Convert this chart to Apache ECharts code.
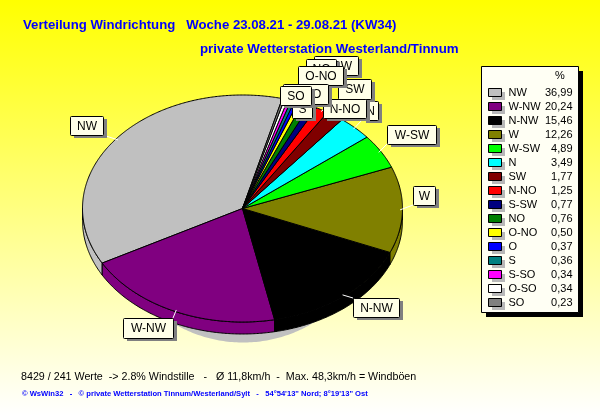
<!DOCTYPE html>
<html>
<head>
<meta charset="utf-8">
<style>html,body{margin:0;padding:0;background:#fff}#c{width:600px;height:415px}</style>
<script src="https://cdn.jsdelivr.net/npm/echarts@6/dist/echarts.min.js"></script>
</head>
<body>
<div id="c"></div>
<script>
// ---- data ----
var directions = ['NW','W-NW','N-NW','W','W-SW','N','SW','N-NO','S-SW','NO','O-NO','O','S','S-SO','O-SO','SO'];
var percents = [36.99,20.24,15.46,12.26,4.89,3.49,1.77,1.25,0.77,0.76,0.50,0.37,0.36,0.34,0.34,0.23];
var percentLabels = ['36,99','20,24','15,46','12,26','4,89','3,49','1,77','1,25','0,77','0,76','0,50','0,37','0,36','0,34','0,34','0,23'];
var titleLine1 = 'Verteilung Windrichtung   Woche 23.08.21 - 29.08.21 (KW34)';
var titleLine2 = 'private Wetterstation Westerland/Tinnum';
var footerLine1 = '8429 / 241 Werte  -> 2.8% Windstille   -   \u00d8 11,8km/h  -  Max. 48,3km/h = Windb\u00f6en';
var footerLine2 = '\u00a9 WsWin32   -   \u00a9 private Wetterstation Tinnum/Westerland/Sylt   -   54\u00b054\'13" Nord; 8\u00b019\'13" Ost';

// ---- styles / layout ----
var sliceColors = ['#c0c0c0','#800080','#000000','#808000','#00ff00','#00ffff','#800000','#ff0000','#000080','#008000','#ffff00','#0000ff','#008080','#ff00ff','#ffffff','#808080'];
var labelBoxes = [[70,116,33,19],[123,318,50,20],[353,298,46,19],[413,186,22,19],[387,125,49,19],[362,101,16,19],
  [338,79,33,20],[323,99,43,19],[314,56,44,19],[306,59,30,19],[298,66,45,19],[305,85,20,18],[292,99,20,19],[288,86,36,17],[283,84,45,20],[280,86,31,19]];
var CX = 242.5, CY = 208.5, RX = 160, RY = 113.5, DEPTH = 12, START = 75.6;
var LEGEND_TOP = 86, LEGEND_ROW = 14;
var FONT = '"Liberation Sans", Arial, sans-serif';

var total = percents.reduce(function (a, b) { return a + b; }, 0);
function sliceStart(i) {
  var s = 0;
  for (var k = 0; k < i; k++) s += percents[k];
  return START + s / total * 360;
}
function rimPoint(deg, dy) {
  var r = deg * Math.PI / 180;
  return [CX + RX * Math.cos(r), CY - RY * Math.sin(r) + (dy || 0)];
}
function arcPoints(a, b, dy) {
  var pts = [], n = Math.max(2, Math.ceil(Math.abs(b - a) * 2));
  for (var k = 0; k <= n; k++) pts.push(rimPoint(a + (b - a) * k / n, dy));
  return pts;
}
function rimSegments(a, b) {
  var out = [];
  [[180, 360], [540, 720]].forEach(function (w) {
    var s = Math.max(a, w[0]), e = Math.min(b, w[1]);
    if (e > s) out.push([s, e]);
  });
  return out;
}

function renderShadow() {
  var pts = [];
  for (var d = 0; d < 360; d += 1) {
    var r = d * Math.PI / 180;
    pts.push([CX + 0.5 + 125 * Math.cos(r), CY + 20 + 114 * Math.sin(r)]);
  }
  return { type: 'polygon', shape: { points: pts }, style: { fill: '#c0c0c0', stroke: null } };
}
function renderRim(params, api) {
  var i = params.dataIndex;
  var a = sliceStart(i), b = a + api.value(0) / total * 360;
  var kids = rimSegments(a, b).map(function (seg) {
    var pts = arcPoints(seg[0], seg[1], 0).concat(arcPoints(seg[1], seg[0], DEPTH));
    return { type: 'polygon', shape: { points: pts }, style: { fill: sliceColors[i], stroke: '#000', lineWidth: 1 } };
  });
  return { type: 'group', children: kids };
}
function topRenderer(i) {
  return function (params, api) {
    var a = sliceStart(i), b = a + api.value(0) / total * 360;
    var pts = [[CX, CY]].concat(arcPoints(a, b, 0));
    return { type: 'polygon', shape: { points: pts }, style: { fill: sliceColors[i], stroke: '#000', lineWidth: 1 } };
  };
}
function renderLabel(params, api) {
  var i = params.dataIndex, box = labelBoxes[i];
  var a = sliceStart(i), mid = a + api.value(0) / total * 180;
  var p = rimPoint(mid, 0);
  var from = [CX + (p[0] - CX) * 0.985, CY + (p[1] - CY) * 0.985];
  var to = [Math.min(Math.max(p[0], box[0]), box[0] + box[2]), Math.min(Math.max(p[1], box[1]), box[1] + box[3])];
  return {
    type: 'group',
    children: [
      { type: 'line', shape: { x1: from[0], y1: from[1], x2: to[0], y2: to[1] }, style: { stroke: '#ffffff', lineWidth: 1 } },
      { type: 'rect', shape: { x: box[0] + 4, y: box[1] + 3, width: box[2], height: box[3] }, style: { fill: '#808080' } },
      { type: 'rect', shape: { x: box[0] + 0.5, y: box[1] + 0.5, width: box[2], height: box[3], r: 1 }, style: { fill: '#ffffe8', stroke: '#000', lineWidth: 1 } },
      { type: 'text', style: { x: box[0] + box[2] / 2 + 0.5, y: box[1] + box[3] / 2 + 1, text: directions[i], align: 'center', verticalAlign: 'middle', fill: '#000', font: '12px ' + FONT } }
    ]
  };
}

var oneValue = percents.map(function (v) { return [v]; });
var series = [
  { type: 'custom', name: 'shadow', coordinateSystem: 'none', silent: true, z: 1, animation: false, data: [[1]], renderItem: renderShadow },
  { type: 'custom', name: 'rim', coordinateSystem: 'none', silent: true, z: 2, animation: false, data: oneValue, renderItem: renderRim }
];
directions.forEach(function (name, i) {
  series.push({ type: 'custom', name: name, coordinateSystem: 'none', silent: true, z: 3, animation: false,
    itemStyle: { color: sliceColors[i] }, data: [[percents[i]]], renderItem: topRenderer(i) });
});
series.push({ type: 'custom', name: 'labels', coordinateSystem: 'none', silent: true, z: 4, animation: false, data: oneValue, renderItem: renderLabel });

var graphics = [
  { type: 'rect', z: 0, silent: true, shape: { x: 486, y: 71, width: 97, height: 246 }, style: { fill: '#000' } },
  { type: 'rect', z: 1, silent: true, shape: { x: 481.5, y: 66.5, width: 97, height: 246 }, style: { fill: '#fffff4', stroke: '#000', lineWidth: 1 } },
  { type: 'text', z: 2, silent: true, style: { x: 560, y: 76, text: '%', align: 'center', verticalAlign: 'middle', fill: '#000', font: '11px ' + FONT } }
];
directions.forEach(function (d, i) {
  graphics.push({ type: 'rect', z: 2, silent: true, shape: { x: 492, y: LEGEND_TOP + 6 + i * LEGEND_ROW, width: 13, height: 8 }, style: { fill: '#b8b8b8' } });
});

var chart = echarts.init(document.getElementById('c'), null, { renderer: 'canvas' });
chart.setOption({
  animation: false,
  backgroundColor: { type: 'linear', x: 0, y: 0, x2: 0, y2: 1, colorStops: [{ offset: 0, color: '#ffff00' }, { offset: 1, color: '#ffffff' }] },
  title: [
    { text: titleLine1, left: 23, top: 19, padding: 0, textStyle: { color: '#0000ff', fontFamily: FONT, fontWeight: 'bold', fontSize: 13.2 } },
    { text: titleLine2, left: 200, top: 43, padding: 0, textStyle: { color: '#0000ff', fontFamily: FONT, fontWeight: 'bold', fontSize: 13.3 } },
    { text: footerLine1, left: 21, top: 372, padding: 0, textStyle: { color: '#000', fontFamily: FONT, fontWeight: 'normal', fontSize: 10.7 } },
    { text: footerLine2, left: 22, top: 390, padding: 0, textStyle: { color: '#0000ff', fontFamily: FONT, fontWeight: 'bold', fontSize: 7.6 } }
  ],
  graphic: graphics,
  legend: {
    orient: 'vertical', left: 488, top: LEGEND_TOP, padding: 0, itemGap: 1, itemWidth: 13, itemHeight: 8, icon: 'rect', selectedMode: false, z: 5,
    data: directions,
    itemStyle: { borderColor: '#000', borderWidth: 1 },
    formatter: function (name) {
      return '{n|' + name + '}{v|' + percentLabels[directions.indexOf(name)] + '}';
    },
    textStyle: {
      color: '#000', fontFamily: FONT, fontSize: 11,
      rich: {
        n: { width: 38, height: 13, lineHeight: 13, padding: [0, 0, 0, 2], fontFamily: FONT, fontSize: 11, color: '#000', align: 'left' },
        v: { width: 26, height: 13, lineHeight: 13, fontFamily: FONT, fontSize: 11, color: '#000', align: 'right' }
      }
    }
  },
  series: series
});
</script>
</body>
</html>
